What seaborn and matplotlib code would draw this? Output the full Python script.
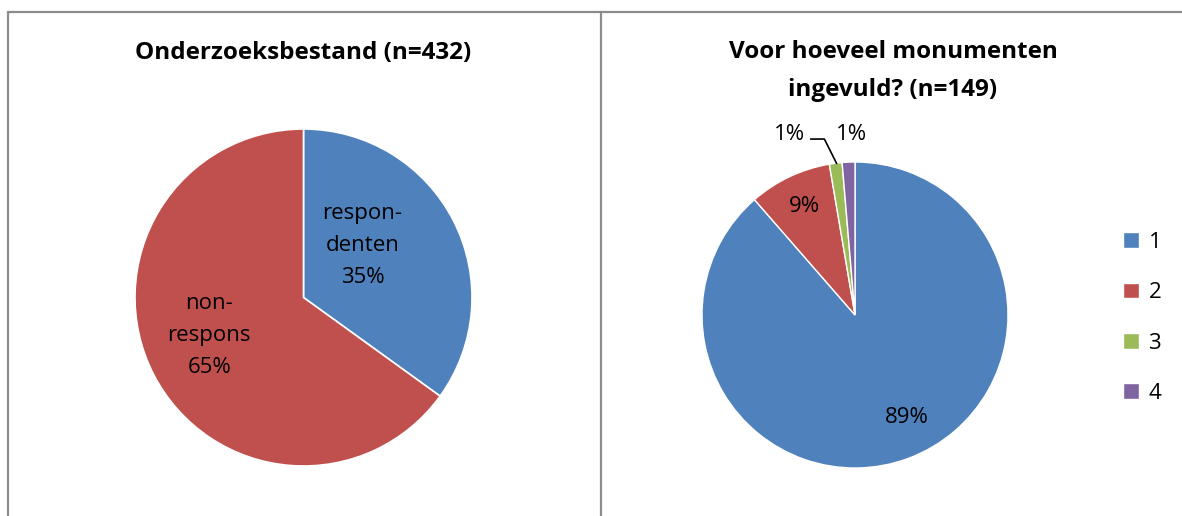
import matplotlib
matplotlib.use("Agg")
import matplotlib.pyplot as plt
import seaborn as sns
from matplotlib.lines import Line2D

# data
left_labels = ["respon-\ndenten", "non-\nrespons"]
left_values = [151, 281]
left_title = "Onderzoeksbestand (n=432)"

right_labels = ["1", "2", "3", "4"]
right_values = [132, 13, 2, 2]
right_title = "Voor hoeveel monumenten\ningevuld? (n=149)"

sns.set_style("white")
plt.rcParams['font.family'] = ['Open Sans', 'DejaVu Sans']
plt.rcParams['text.color'] = 'black'

colors = ["#4F81BD", "#C0504D", "#9BBB59", "#8064A2"]

W, H = 1182, 516
fig = plt.figure(figsize=(W / 100, H / 100), dpi=100)


def px_axes(x0, y0, x1, y1):
    # axes box given in pixel coordinates (top-left origin)
    return fig.add_axes([x0 / W, 1 - y1 / H, (x1 - x0) / W, (y1 - y0) / H])


# panel borders
border = dict(color="#8c8c8c", lw=1.6, transform=fig.transFigure)
fig.add_artist(Line2D([7.5 / W, 1], [1 - 11.5 / H] * 2, **border))
fig.add_artist(Line2D([7.5 / W] * 2, [0, 1 - 11.5 / H], **border))
fig.add_artist(Line2D([600.5 / W] * 2, [0, 1 - 11.5 / H], **border))

# left pie
ax1 = px_axes(135, 129, 472, 466)
wedges1, _ = ax1.pie(left_values, colors=colors[:2], startangle=90, counterclock=False,
                     wedgeprops=dict(edgecolor="white", linewidth=1.2))
ax1.set_xlim(-1, 1)
ax1.set_ylim(-1, 1)
ax1.axis("off")
tot = sum(left_values)
left_pos = [(0.35, 0.31), (-0.56, -0.225)]
for lab, v, (x, y) in zip(left_labels, left_values, left_pos):
    ax1.text(x, y, f"{lab}\n{round(100 * v / tot)}%", ha="center", va="center",
             fontsize=16, linespacing=1.68, color="black")
fig.text(303 / W, 1 - 53 / H, left_title, ha="center", va="center",
         fontsize=17.5, fontweight="bold")

# right pie
ax2 = px_axes(702, 162, 1008, 468)
wedges2, _ = ax2.pie(right_values, colors=colors, startangle=90, counterclock=False,
                     wedgeprops=dict(edgecolor="white", linewidth=1.0))
ax2.set_xlim(-1, 1)
ax2.set_ylim(-1, 1)
ax2.axis("off")
tot2 = sum(right_values)
right_pos = [(0.34, -0.67), (-0.33, 0.71), (-0.43, 1.18), (-0.02, 1.18)]
for v, (x, y) in zip(right_values, right_pos):
    ax2.text(x, y, f"{round(100 * v / tot2)}%", ha="center", va="center",
             fontsize=16, color="black", clip_on=False)
# leader line for the green slice
ax2.plot([-0.29, -0.2, -0.12], [1.15, 1.15, 0.99], color="black", lw=1.2, clip_on=False)

fig.text(893 / W, 1 - 71 / H, right_title, ha="center", va="center",
         fontsize=17.5, fontweight="bold", linespacing=1.76)

fig.legend(wedges2, right_labels, loc="center left",
           bbox_to_anchor=(1103 / W, 1 - 318 / H), frameon=False,
           fontsize=16, handlelength=0.7, handleheight=0.7,
           handletextpad=0.45, labelspacing=1.32)

fig.savefig("out.png", dpi=100)
